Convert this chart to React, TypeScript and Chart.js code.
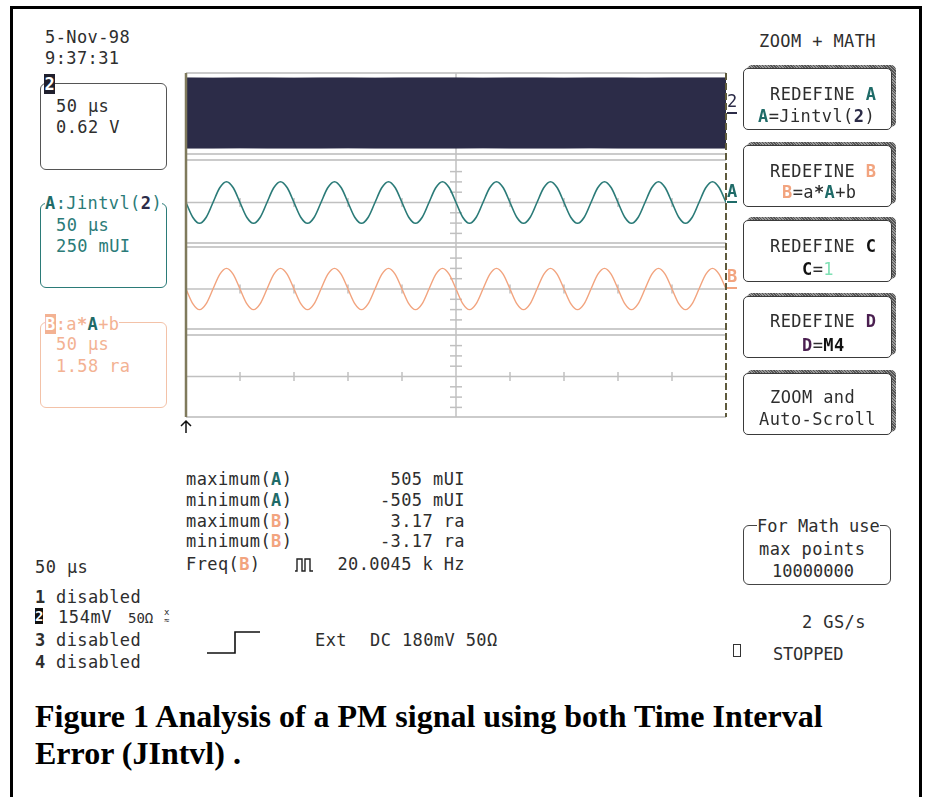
import React, { useEffect, useRef } from "react";
import { Chart, registerables } from "chart.js";

Chart.register(...registerables);

// ---------------- data (read from the screen) ----------------
// time base: 50 us/div, 10 divisions
const timeUs = [
  0, 6.25, 12.5, 18.75, 25, 31.25, 37.5, 43.75,
  50, 56.25, 62.5, 68.75, 75, 81.25, 87.5, 93.75,
  100, 106.25, 112.5, 118.75, 125, 131.25, 137.5, 143.75,
  150, 156.25, 162.5, 168.75, 175, 181.25, 187.5, 193.75,
  200, 206.25, 212.5, 218.75, 225, 231.25, 237.5, 243.75,
  250, 256.25, 262.5, 268.75, 275, 281.25, 287.5, 293.75,
  300, 306.25, 312.5, 318.75, 325, 331.25, 337.5, 343.75,
  350, 356.25, 362.5, 368.75, 375, 381.25, 387.5, 393.75,
  400, 406.25, 412.5, 418.75, 425, 431.25, 437.5, 443.75,
  450, 456.25, 462.5, 468.75, 475, 481.25, 487.5, 493.75,
  500,
];

// Trace A: Jintvl(2), mUI
const jitterA = [
  0, -357, -505, -357, 0, 357, 505, 357,
  0, -357, -505, -357, 0, 357, 505, 357,
  0, -357, -505, -357, 0, 357, 505, 357,
  0, -357, -505, -357, 0, 357, 505, 357,
  0, -357, -505, -357, 0, 357, 505, 357,
  0, -357, -505, -357, 0, 357, 505, 357,
  0, -357, -505, -357, 0, 357, 505, 357,
  0, -357, -505, -357, 0, 357, 505, 357,
  0, -357, -505, -357, 0, 357, 505, 357,
  0, -357, -505, -357, 0, 357, 505, 357,
  0,
];

// Trace B: a*A+b, radians
const phaseB = [
  0, -2.24, -3.17, -2.24, 0, 2.24, 3.17, 2.24,
  0, -2.24, -3.17, -2.24, 0, 2.24, 3.17, 2.24,
  0, -2.24, -3.17, -2.24, 0, 2.24, 3.17, 2.24,
  0, -2.24, -3.17, -2.24, 0, 2.24, 3.17, 2.24,
  0, -2.24, -3.17, -2.24, 0, 2.24, 3.17, 2.24,
  0, -2.24, -3.17, -2.24, 0, 2.24, 3.17, 2.24,
  0, -2.24, -3.17, -2.24, 0, 2.24, 3.17, 2.24,
  0, -2.24, -3.17, -2.24, 0, 2.24, 3.17, 2.24,
  0, -2.24, -3.17, -2.24, 0, 2.24, 3.17, 2.24,
  0, -2.24, -3.17, -2.24, 0, 2.24, 3.17, 2.24,
  0,
];

// Trace 2: dense PM carrier, drawn as its envelope (V)
const bandTimeUs = [0, 25, 50, 75, 100, 125, 150, 175, 200, 225, 250, 275, 300, 325, 350, 375, 400, 425, 450, 475, 500];
const bandTopV = [2.14, 2.13, 2.14, 2.14, 2.13, 2.14, 2.14, 2.13, 2.14, 2.14, 2.14, 2.13, 2.14, 2.14, 2.13, 2.14, 2.14, 2.13, 2.14, 2.14, 2.14];
const bandBottomV = [-2.08, -2.08, -2.07, -2.08, -2.08, -2.08, -2.07, -2.08, -2.08, -2.08, -2.08, -2.07, -2.08, -2.08, -2.08, -2.07, -2.08, -2.08, -2.08, -2.08, -2.08];

// vertical sensitivities per division
const volts2PerDiv = 0.62;
const mUIPerDivA = 250;
const raPerDivB = 1.58;
const memDPerDiv = 1;

// ---------------- layout ----------------
const OX = 176;
const OY = 63;
const CW = 560;
const CH = 375;
const AREA_TOP = 73;
const AREA_BOTTOM = 417;
const PANEL_EDGES = [
  [73, 154],
  [160, 243],
  [247, 329],
  [335, 417],
];
const CENTERS = [113.5, 202.5, 289, 376.5];
const DIVPX = 10.3;

function yRange(center: number, perDiv: number) {
  return {
    min: -((AREA_BOTTOM - center) / DIVPX) * perDiv,
    max: ((center - AREA_TOP) / DIVPX) * perDiv,
  };
}

const MONO = "'DejaVu Sans Mono', 'Liberation Mono', monospace";
const INK = "#2e2e2e";
const TEAL = "#2b7b78";
const TEAL_B = "#1f6b68";
const SALMON = "#f2a47f";
const SALMON_T = "#f3b293";
const NAVY = "#2c2c48";

const scopeGrid = {
  id: "scopeGrid",
  beforeDatasetsDraw(chart: any) {
    const { ctx, chartArea: a, scales } = chart;
    const L = a.left;
    const R = a.right;
    const ln = (x1: number, y1: number, x2: number, y2: number) => {
      ctx.beginPath();
      ctx.moveTo(x1, y1);
      ctx.lineTo(x2, y2);
      ctx.stroke();
    };
    ctx.save();
    ctx.strokeStyle = "#cbcbcb";
    ctx.lineWidth = 2;
    for (const [t, b] of PANEL_EDGES) {
      ln(L, t - OY, R, t - OY);
      ln(L, b - OY, R, b - OY);
    }
    ctx.strokeStyle = "#c0c0c0";
    ctx.lineWidth = 1.5;
    const cx = scales.x.getPixelForValue(250);
    ln(cx, a.top, cx, a.bottom);
    for (const id of ["y2", "yA", "yB", "yD"]) {
      const cy = scales[id].getPixelForValue(0);
      ln(L, cy, R, cy);
      for (let k = 1; k < 10; k++) {
        if (k === 5) continue;
        const x = scales.x.getPixelForValue(k * 50);
        ln(x, cy - 4.5, x, cy + 4.5);
      }
      for (const k of [-3, -2, -1, 1, 2, 3]) {
        const y = cy + k * DIVPX;
        ln(cx - 6, y, cx + 6, y);
      }
    }
    ctx.restore();
  },
  afterDatasetsDraw(chart: any) {
    const { ctx, chartArea: a } = chart;
    const L = a.left;
    const R = a.right;
    ctx.save();
    ctx.strokeStyle = "#7f7a5c";
    ctx.lineWidth = 2.5;
    ctx.beginPath();
    ctx.moveTo(L, a.top);
    ctx.lineTo(L, a.bottom);
    ctx.stroke();
    ctx.strokeStyle = "#5e5a3c";
    ctx.lineWidth = 2;
    ctx.setLineDash([7, 3]);
    ctx.beginPath();
    ctx.moveTo(R, a.top);
    ctx.lineTo(R, a.bottom);
    ctx.stroke();
    ctx.setLineDash([]);
    // trigger position arrow
    ctx.strokeStyle = "#111";
    ctx.lineWidth = 1.5;
    ctx.beginPath();
    ctx.moveTo(L, a.bottom + 4);
    ctx.lineTo(L, a.bottom + 16);
    ctx.moveTo(L - 5, a.bottom + 9);
    ctx.lineTo(L, a.bottom + 4);
    ctx.lineTo(L + 5, a.bottom + 9);
    ctx.stroke();
    ctx.restore();
  },
};

type TP = {
  x: number;
  b: number;
  size?: number;
  color?: string;
  bold?: boolean;
  ls?: number;
  right?: boolean;
  bg?: string;
  children: React.ReactNode;
};

function T({ x, b, size = 17, color = INK, bold, ls = 0.4, right, bg, children }: TP) {
  const style: React.CSSProperties = {
    position: "absolute",
    top: b - 0.846 * size,
    fontFamily: MONO,
    fontSize: size,
    lineHeight: `${size}px`,
    color,
    fontWeight: bold ? 700 : 400,
    letterSpacing: ls,
    whiteSpace: "pre",
    background: bg,
  };
  if (right) style.right = 925 - x;
  else style.left = x;
  return <div style={style}>{children}</div>;
}

const bA = (c: string) => <b style={{ color: c }}>A</b>;
const bB = () => <b style={{ color: SALMON }}>B</b>;

function Btn({ top }: { top: number }) {
  return (
    <>
      <div
        style={{
          position: "absolute",
          left: 747,
          top: top - 3,
          width: 149,
          height: 62,
          borderRadius: 5,
          background: "repeating-linear-gradient(45deg, #555 0 1px, #999 1px 2px)",
        }}
      />
      <div
        style={{
          position: "absolute",
          left: 743,
          top,
          width: 149,
          height: 62,
          background: "#fff",
          border: "1.5px solid #3a3a3a",
          borderRadius: 5,
          boxSizing: "border-box",
        }}
      />
    </>
  );
}

function Box({ l, t, w, h, c }: { l: number; t: number; w: number; h: number; c: string }) {
  return (
    <div
      style={{
        position: "absolute",
        left: l,
        top: t,
        width: w,
        height: h,
        border: `1.5px solid ${c}`,
        borderRadius: 6,
        boxSizing: "border-box",
      }}
    />
  );
}

export default function App() {
  const ref = useRef<HTMLCanvasElement>(null);

  useEffect(() => {
    const r2 = yRange(CENTERS[0], volts2PerDiv);
    const rA = yRange(CENTERS[1], mUIPerDivA);
    const rB = yRange(CENTERS[2], raPerDivB);
    const rD = yRange(CENTERS[3], memDPerDiv);
    const chart = new Chart(ref.current!, {
      type: "line",
      data: {
        datasets: [
          {
            label: "2 top",
            data: bandTimeUs.map((t, i) => ({ x: t, y: bandTopV[i] })),
            yAxisID: "y2",
            borderColor: NAVY,
            borderWidth: 1,
            backgroundColor: NAVY,
            fill: "+1",
            pointRadius: 0,
          },
          {
            label: "2 bottom",
            data: bandTimeUs.map((t, i) => ({ x: t, y: bandBottomV[i] })),
            yAxisID: "y2",
            borderColor: NAVY,
            borderWidth: 1,
            fill: false,
            pointRadius: 0,
          },
          {
            label: "A",
            data: timeUs.map((t, i) => ({ x: t, y: jitterA[i] })),
            yAxisID: "yA",
            borderColor: TEAL,
            borderWidth: 1.6,
            cubicInterpolationMode: "monotone",
            fill: false,
            pointRadius: 0,
          },
          {
            label: "B",
            data: timeUs.map((t, i) => ({ x: t, y: phaseB[i] })),
            yAxisID: "yB",
            borderColor: SALMON,
            borderWidth: 1.4,
            cubicInterpolationMode: "monotone",
            fill: false,
            pointRadius: 0,
          },
        ],
      },
      options: {
        animation: false,
        responsive: false,
        maintainAspectRatio: false,
        events: [],
        layout: { padding: { left: 10, right: 10, top: 10, bottom: CH - (AREA_BOTTOM - OY) } },
        plugins: { legend: { display: false }, tooltip: { enabled: false } },
        scales: {
          x: { type: "linear", min: 0, max: 500, display: false },
          y2: { type: "linear", min: r2.min, max: r2.max, display: false },
          yA: { type: "linear", min: rA.min, max: rA.max, display: false },
          yB: { type: "linear", min: rB.min, max: rB.max, display: false },
          yD: { type: "linear", min: rD.min, max: rD.max, display: false },
        },
      },
      plugins: [scopeGrid],
    } as any);
    return () => chart.destroy();
  }, []);

  return (
    <div
      style={{
        position: "absolute",
        left: 0,
        top: 0,
        width: 925,
        height: 797,
        overflow: "hidden",
        background: "#fff",
      }}
    >
      <div
        style={{
          position: "absolute",
          left: 10,
          top: 6,
          width: 912,
          height: 900,
          border: "3px solid #000",
          boxSizing: "border-box",
        }}
      />
      <canvas
        ref={ref}
        width={CW}
        height={CH}
        style={{ position: "absolute", left: OX, top: OY, width: CW, height: CH }}
      />

      {/* date / time */}
      <T x={45} b={43}>5-Nov-98</T>
      <T x={45} b={64}>9:37:31</T>

      {/* channel 2 box */}
      <Box l={40} t={83} w={127} h={87} c="#555" />
      <div
        style={{
          position: "absolute",
          left: 44,
          top: 74,
          width: 11,
          height: 20,
          background: "#20202e",
          color: "#fff",
          fontFamily: MONO,
          fontWeight: 700,
          fontSize: 17,
          lineHeight: "20px",
          textAlign: "center",
        }}
      >
        2
      </div>
      <T x={56} b={112}>50 µs</T>
      <T x={56} b={133}>0.62 V</T>

      {/* A box */}
      <Box l={40} t={203} w={127} h={85} c={TEAL} />
      <T x={45} b={209} color={TEAL} bg="#fff">
        {bA(TEAL_B)}:Jintvl(<b style={{ color: NAVY }}>2</b>)
      </T>
      <T x={56} b={231} color={TEAL}>50 µs</T>
      <T x={56} b={252} color={TEAL}>250 mUI</T>

      {/* B box */}
      <Box l={40} t={322} w={127} h={86} c="#f3c2a8" />
      <T x={45} b={330} color={SALMON_T} bg="#fff">
        <span style={{ background: SALMON_T, color: "#fff", fontWeight: 700 }}>B</span>:a
        <b>*</b>
        {bA(TEAL_B)}+b
      </T>
      <T x={56} b={350} color={SALMON_T}>50 µs</T>
      <T x={56} b={372} color={SALMON_T}>1.58 ra</T>

      {/* trace markers at right of grid */}
      <T x={727} b={107} color={NAVY} ls={0}>2</T>
      <div style={{ position: "absolute", left: 727, top: 112, width: 10, height: 2, background: NAVY }} />
      <T x={727} b={197} color={TEAL_B} bold ls={0}>A</T>
      <div style={{ position: "absolute", left: 727, top: 201, width: 10, height: 2, background: TEAL_B }} />
      <T x={727} b={282} color={SALMON} bold ls={0}>B</T>
      <div style={{ position: "absolute", left: 727, top: 287, width: 10, height: 2, background: SALMON }} />

      {/* right menu */}
      <T x={759} b={47}>ZOOM + MATH</T>
      <Btn top={68} />
      <T x={770} b={100}>REDEFINE {bA(TEAL_B)}</T>
      <T x={758} b={122}>{bA(TEAL_B)}=Jintvl(<b style={{ color: NAVY }}>2</b>)</T>
      <Btn top={145} />
      <T x={770} b={177}>REDEFINE {bB()}</T>
      <T x={782} b={198}>{bB()}=a<b>*</b>{bA(TEAL_B)}+b</T>
      <Btn top={220} />
      <T x={770} b={252}>REDEFINE <b style={{ color: "#111" }}>C</b></T>
      <T x={802} b={275}><b style={{ color: "#111" }}>C</b>=<span style={{ color: "#7fe0b4" }}>1</span></T>
      <Btn top={296} />
      <T x={770} b={327}>REDEFINE <b style={{ color: "#4a1f50" }}>D</b></T>
      <T x={802} b={351}><b style={{ color: "#4a1f50" }}>D</b>=<b style={{ color: "#111" }}>M4</b></T>
      <Btn top={373} />
      <T x={770} b={403}>ZOOM and</T>
      <T x={759} b={425}>Auto-Scroll</T>

      {/* measurements */}
      <T x={186} b={485}>maximum({bA(TEAL_B)})</T>
      <T x={465} b={485} right>505 mUI</T>
      <T x={186} b={506}>minimum({bA(TEAL_B)})</T>
      <T x={465} b={506} right>-505 mUI</T>
      <T x={186} b={527}>maximum({bB()})</T>
      <T x={465} b={527} right>3.17 ra</T>
      <T x={186} b={547}>minimum({bB()})</T>
      <T x={465} b={547} right>-3.17 ra</T>
      <T x={186} b={570}>Freq({bB()})</T>
      <T x={465} b={570} right>20.0045 k Hz</T>
      <svg style={{ position: "absolute", left: 293, top: 556, width: 24, height: 18 }}>
        <path d="M2 15 H4 V3 H9 V15 H12 V3 H17 V15 H20" stroke="#222" strokeWidth="1.4" fill="none" />
      </svg>

      {/* bottom left status */}
      <T x={35} b={573}>50 µs</T>
      <T x={35} b={603} bold>1</T>
      <T x={56} b={603}>disabled</T>
      <div
        style={{
          position: "absolute",
          left: 35,
          top: 608,
          width: 8,
          height: 16,
          background: "#111",
          color: "#fff",
          fontFamily: MONO,
          fontWeight: 700,
          fontSize: 14,
          lineHeight: "16px",
          textAlign: "center",
        }}
      >
        2
      </div>
      <T x={58} b={623} ls={0.6}>154mV</T>
      <T x={128} b={623} size={14} ls={0}>50Ω</T>
      <T x={164} b={616} size={9} ls={0}>x</T>
      <T x={164} b={624} size={9} ls={0}>≈</T>
      <T x={35} b={646} bold>3</T>
      <T x={56} b={646}>disabled</T>
      <T x={35} b={668} bold>4</T>
      <T x={56} b={668}>disabled</T>

      <svg style={{ position: "absolute", left: 200, top: 625, width: 70, height: 35 }}>
        <path d="M7 28 H35 V7 H60" stroke="#111" strokeWidth="1.6" fill="none" />
      </svg>
      <T x={315} b={646}>Ext</T>
      <T x={370} b={646}>DC 180mV 50Ω</T>

      {/* math points box */}
      <Box l={743} t={525} w={148} h={60} c="#444" />
      <T x={757} b={532} bg="#fff" ls={0}>For Math use</T>
      <T x={759} b={555}>max points</T>
      <T x={772} b={577} ls={0}>10000000</T>
      <T x={802} b={628}>2 GS/s</T>
      <div
        style={{
          position: "absolute",
          left: 733,
          top: 644,
          width: 8,
          height: 13,
          border: "1.5px solid #333",
          boxSizing: "border-box",
        }}
      />
      <T x={773} b={660} ls={-0.2}>STOPPED</T>

      {/* caption */}
      <div
        style={{
          position: "absolute",
          left: 35,
          top: 698,
          fontFamily: "'Liberation Serif', 'Times New Roman', serif",
          fontWeight: 700,
          fontSize: 32,
          lineHeight: "37px",
          color: "#000",
        }}
      >
        Figure 1 Analysis of a PM signal using both Time Interval
        <br />
        Error (JIntvl) .
      </div>
    </div>
  );
}
